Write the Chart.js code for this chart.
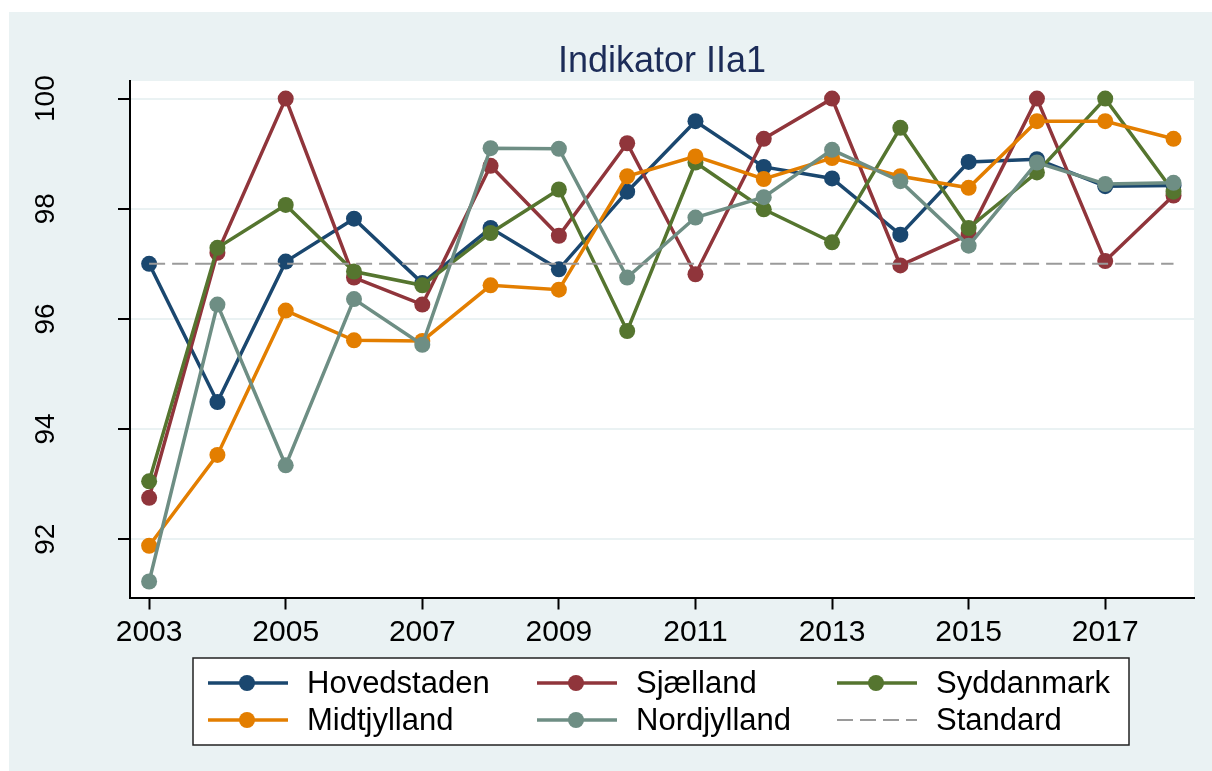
<!DOCTYPE html>
<html>
<head>
<meta charset="utf-8">
<script src="https://cdn.jsdelivr.net/npm/chart.js@4.4.0/dist/chart.umd.min.js"></script>
<style>
  body { margin: 0; background: #fff; }
  #wrap { width: 1212px; height: 771px; }
</style>
</head>
<body>
<div id="wrap"><canvas id="myChart" width="1212" height="771"></canvas></div>
<script>
// data
const years = [2003, 2004, 2005, 2006, 2007, 2008, 2009, 2010, 2011, 2012, 2013, 2014, 2015, 2016, 2017, 2018];
const hovedstaden = [97.00, 94.49, 97.04, 97.82, 96.65, 97.65, 96.90, 98.31, 99.59, 98.76, 98.55, 97.53, 98.85, 98.90, 98.41, 98.42];
const sjaelland   = [92.75, 97.20, 100.00, 96.75, 96.26, 98.78, 97.51, 99.19, 96.81, 99.27, 100.00, 96.97, 97.53, 100.00, 97.05, 98.24];
const syddanmark  = [93.05, 97.29, 98.07, 96.86, 96.61, 97.56, 98.35, 95.78, 98.84, 97.99, 97.39, 99.47, 97.65, 98.66, 100.00, 98.31];
const midtjylland = [91.88, 93.53, 96.15, 95.61, 95.60, 96.61, 96.53, 98.59, 98.95, 98.54, 98.92, 98.59, 98.38, 99.59, 99.59, 99.27];
const nordjylland = [91.23, 96.26, 93.34, 96.36, 95.53, 99.10, 99.09, 96.75, 97.84, 98.21, 99.07, 98.50, 97.33, 98.84, 98.45, 98.47];
const standard    = [97, 97, 97, 97, 97, 97, 97, 97, 97, 97, 97, 97, 97, 97, 97, 97];

const seriesNames = ['Hovedstaden', 'Sjælland', 'Syddanmark', 'Midtjylland', 'Nordjylland', 'Standard'];
const xTicks = [2003, 2005, 2007, 2009, 2011, 2013, 2015, 2017];
const yTicks = [92, 94, 96, 98, 100];
const titleText = 'Indikator IIa1';

const colors = ['#1a476f', '#90353b', '#55752f', '#e37e00', '#6e8e84', '#9a9a9a'];
const FONT = "'Liberation Sans', Arial, Helvetica, sans-serif";

function pts(vals) {
  return years.map(function (y, i) { return { x: y, y: vals[i] }; });
}

const allSeries = [hovedstaden, sjaelland, syddanmark, midtjylland, nordjylland];
const datasets = allSeries.map(function (vals, i) {
  return {
    label: seriesNames[i],
    data: pts(vals),
    borderColor: colors[i],
    backgroundColor: colors[i],
    borderWidth: 3.5,
    pointRadius: 8,
    pointBorderWidth: 0,
    pointBackgroundColor: colors[i],
    tension: 0,
    order: 10 - i
  };
});
datasets.push({
  label: seriesNames[5],
  data: pts(standard),
  borderColor: colors[5],
  borderWidth: 2,
  borderDash: [16, 7],
  pointRadius: 0,
  order: 1
});

// background, white plot region, title, rotated y labels and the legend box
const stataLook = {
  id: 'stataLook',
  beforeDraw: function (chart) {
    const c = chart.ctx, a = chart.chartArea;
    c.save();
    c.fillStyle = '#ffffff';
    c.fillRect(0, 0, chart.width, chart.height);
    c.fillStyle = '#eaf2f3';
    c.fillRect(9, 12, chart.width - 9, chart.height - 12);
    c.fillStyle = '#ffffff';
    c.fillRect(a.left, a.top, a.right - a.left, a.bottom - a.top);
    c.restore();
  },
  afterDraw: function (chart) {
    const c = chart.ctx, a = chart.chartArea;
    c.save();
    // title
    c.fillStyle = '#1c2c58';
    c.font = '36px ' + FONT;
    c.textAlign = 'center';
    c.textBaseline = 'alphabetic';
    c.fillText(titleText, (a.left + a.right) / 2, 72);

    // y labels, turned like Stata does
    const ys = chart.scales.y;
    c.fillStyle = '#000';
    c.font = '28px ' + FONT;
    yTicks.forEach(function (v) {
      const py = ys.getPixelForValue(v);
      c.save();
      c.translate(53.5, py);
      c.rotate(-Math.PI / 2);
      c.textAlign = 'center';
      c.fillText(String(v), 0, 0);
      c.restore();
    });

    // legend
    const bx = 193, by = 658, bw = 936, bh = 87;
    c.fillStyle = '#fff';
    c.fillRect(bx, by, bw, bh);
    c.strokeStyle = '#222';
    c.lineWidth = 1.5;
    c.strokeRect(bx, by, bw, bh);
    const colX = [208, 537, 837];
    const rowY = [683, 720];
    c.font = '31px ' + FONT;
    c.textAlign = 'left';
    c.textBaseline = 'middle';
    chart.data.datasets.forEach(function (ds, i) {
      const lx = colX[i % 3], ly = rowY[Math.floor(i / 3)];
      c.strokeStyle = ds.borderColor;
      c.lineWidth = ds.pointRadius > 0 ? 3.5 : 2;
      c.setLineDash(ds.borderDash || []);
      c.beginPath();
      c.moveTo(lx, ly);
      c.lineTo(lx + 80, ly);
      c.stroke();
      c.setLineDash([]);
      if (ds.pointRadius > 0) {
        c.fillStyle = ds.borderColor;
        c.beginPath();
        c.arc(lx + 39, ly, 8, 0, Math.PI * 2);
        c.fill();
      }
      c.fillStyle = '#000';
      c.fillText(ds.label, lx + 99, ly + 1);
    });
    c.restore();
  }
};

var ctx = document.getElementById('myChart').getContext('2d');
const chart = new Chart(ctx, {
  type: 'line',
  data: { datasets: datasets },
  plugins: [stataLook],
  options: {
    responsive: false,
    animation: false,
    events: [],
    layout: { padding: { left: 0, top: 81, right: 18, bottom: 123.5 } },
    plugins: {
      legend: { display: false },
      title: { display: false },
      tooltip: { enabled: false }
    },
    scales: {
      x: {
        type: 'linear',
        min: 2002.72,
        max: 2018.3,
        afterBuildTicks: function (s) { s.ticks = xTicks.map(function (v) { return { value: v }; }); },
        afterFit: function (s) { s.height = 50; },
        border: { color: '#000', width: 2 },
        grid: { drawOnChartArea: false, tickColor: '#000', tickLength: 12, tickWidth: 2 },
        ticks: {
          color: '#000',
          font: { family: FONT, size: 30 },
          padding: 5,
          maxRotation: 0,
          autoSkip: false,
          callback: function (v) { return String(v); }
        }
      },
      y: {
        type: 'linear',
        min: 90.94,
        max: 100.32,
        afterBuildTicks: function (s) { s.ticks = yTicks.map(function (v) { return { value: v }; }); },
        afterFit: function (s) { s.width = 130; },
        border: { color: '#000', width: 2 },
        grid: { color: '#eaf2f3', lineWidth: 2, tickColor: '#000', tickLength: 12, tickWidth: 2 },
        ticks: { display: false }
      }
    }
  }
});
</script>
</body>
</html>
